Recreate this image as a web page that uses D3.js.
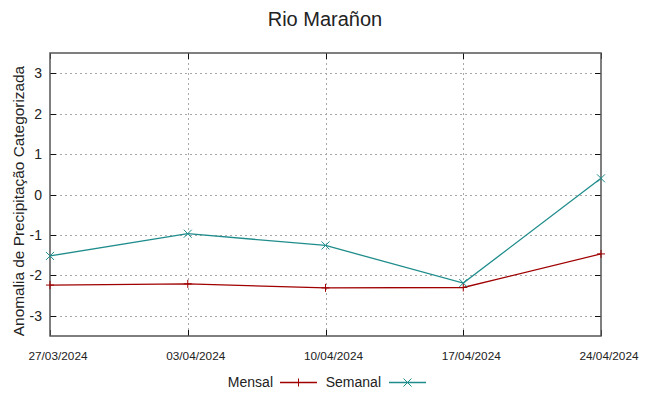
<!DOCTYPE html>
<html>
<head>
<meta charset="utf-8">
<script src="https://cdn.jsdelivr.net/npm/d3@7"></script>
<style>
    body { margin: 0; background: #fff; }
    text { font-family: "Liberation Sans", Arial, sans-serif; fill: #222; }
</style>
</head>
<body>
<div id="chart"></div>
<script>
var dates = ["27/03/2024", "03/04/2024", "10/04/2024", "17/04/2024", "24/04/2024"];
var mensal = [-2.24, -2.21, -2.31, -2.30, -1.47];
var semanal = [-1.52, -0.97, -1.26, -2.19, 0.40];
var yTicks = [-3, -2, -1, 0, 1, 2, 3];

var width = 649, height = 396;
var margin = { left: 50, right: 48, top: 53, bottom: 60 };

var parse = d3.timeParse("%d/%m/%Y");
var days = dates.map(parse);

var svg = d3.select("#chart").append("svg")
    .attr("width", width)
    .attr("height", height);

var x = d3.scaleTime()
    .domain(d3.extent(days))
    .range([margin.left, width - margin.right]);

var y = d3.scaleLinear()
    .domain([-3.5, 3.5])
    .range([height - margin.bottom, margin.top]);

// grid
var grid = svg.append("g")
    .attr("stroke", "#a8a8a8")
    .attr("stroke-width", 1)
    .attr("stroke-dasharray", "2,3");

grid.selectAll("line.gy").data(yTicks)
    .enter().append("line")
    .attr("x1", margin.left).attr("x2", width - margin.right)
    .attr("y1", function (d) { return Math.round(y(d)) + 0.5; })
    .attr("y2", function (d) { return Math.round(y(d)) + 0.5; });

grid.selectAll("line.gx").data(days.slice(1, -1))
    .enter().append("line")
    .attr("y1", margin.top).attr("y2", height - margin.bottom)
    .attr("x1", function (d) { return Math.round(x(d)) + 0.5; })
    .attr("x2", function (d) { return Math.round(x(d)) + 0.5; });

// ticks (inside, mirrored)
var ticks = svg.append("g").attr("stroke", "#111").attr("stroke-width", 1);
yTicks.forEach(function (t) {
    var yy = Math.round(y(t)) + 0.5;
    ticks.append("line").attr("x1", margin.left).attr("x2", margin.left + 6).attr("y1", yy).attr("y2", yy);
    ticks.append("line").attr("x1", width - margin.right - 6).attr("x2", width - margin.right).attr("y1", yy).attr("y2", yy);
});
days.forEach(function (d) {
    var xx = Math.round(x(d)) + 0.5;
    ticks.append("line").attr("x1", xx).attr("x2", xx).attr("y1", height - margin.bottom).attr("y2", height - margin.bottom - 6);
    ticks.append("line").attr("x1", xx).attr("x2", xx).attr("y1", margin.top).attr("y2", margin.top + 6);
});

// border
svg.append("rect")
    .attr("x", margin.left).attr("y", margin.top)
    .attr("width", width - margin.left - margin.right)
    .attr("height", height - margin.top - margin.bottom)
    .attr("fill", "none")
    .attr("stroke", "#555")
    .attr("stroke-width", 1.5);

// tick labels
svg.selectAll("text.yl").data(yTicks)
    .enter().append("text")
    .attr("x", margin.left - 8)
    .attr("y", function (d) { return y(d) + 5; })
    .attr("text-anchor", "end")
    .attr("font-size", 14)
    .text(function (d) { return d; });

svg.selectAll("text.xl").data(days)
    .enter().append("text")
    .attr("x", function (d) { return x(d) + 8; })
    .attr("y", height - margin.bottom + 24)
    .attr("text-anchor", "middle")
    .attr("font-size", 11.8)
    .text(function (d, i) { return dates[i]; });

// titles
svg.append("text")
    .attr("x", 325).attr("y", 26)
    .attr("text-anchor", "middle")
    .attr("font-size", 20)
    .text("Rio Marañon");

svg.append("text")
    .attr("transform", "translate(24,201) rotate(-90)")
    .attr("text-anchor", "middle")
    .attr("font-size", 15.4)
    .text("Anomalia de Precipitação Categorizada");

// series
var series = [
    { name: "Mensal", values: mensal, color: "#a00000", mark: "plus" },
    { name: "Semanal", values: semanal, color: "#1f8c8c", mark: "cross" }
];

var line = d3.line()
    .x(function (d, i) { return x(days[i]); })
    .y(function (d) { return y(d); });

function marker(g, cx, cy, type, color) {
    var s = 4;
    if (type === "plus") {
        g.append("path").attr("d", "M" + (cx - s) + "," + cy + "H" + (cx + s) + "M" + cx + "," + (cy - s) + "V" + (cy + s))
            .attr("stroke", color).attr("stroke-width", 1).attr("fill", "none");
    } else {
        g.append("path").attr("d", "M" + (cx - s) + "," + (cy - s) + "L" + (cx + s) + "," + (cy + s) + "M" + (cx - s) + "," + (cy + s) + "L" + (cx + s) + "," + (cy - s))
            .attr("stroke", color).attr("stroke-width", 1).attr("fill", "none");
    }
}

series.forEach(function (s) {
    var g = svg.append("g");
    g.append("path").datum(s.values)
        .attr("d", line)
        .attr("fill", "none")
        .attr("stroke", s.color)
        .attr("stroke-width", 1.3);
    s.values.forEach(function (v, i) {
        marker(g, x(days[i]), y(v), s.mark, s.color);
    });
});

// legend
var legend = [
    { name: "Mensal", color: "#a00000", mark: "plus", tx: 273, lx: 280 },
    { name: "Semanal", color: "#1f8c8c", mark: "cross", tx: 381, lx: 389 }
];
legend.forEach(function (l) {
    var g = svg.append("g");
    g.append("text")
        .attr("x", l.tx).attr("y", 387)
        .attr("text-anchor", "end")
        .attr("font-size", 14)
        .text(l.name);
    g.append("line")
        .attr("x1", l.lx).attr("x2", l.lx + 37)
        .attr("y1", 382.5).attr("y2", 382.5)
        .attr("stroke", l.color).attr("stroke-width", 1.3);
    marker(g, l.lx + 18.5, 382.5, l.mark, l.color);
});
</script>
</body>
</html>
